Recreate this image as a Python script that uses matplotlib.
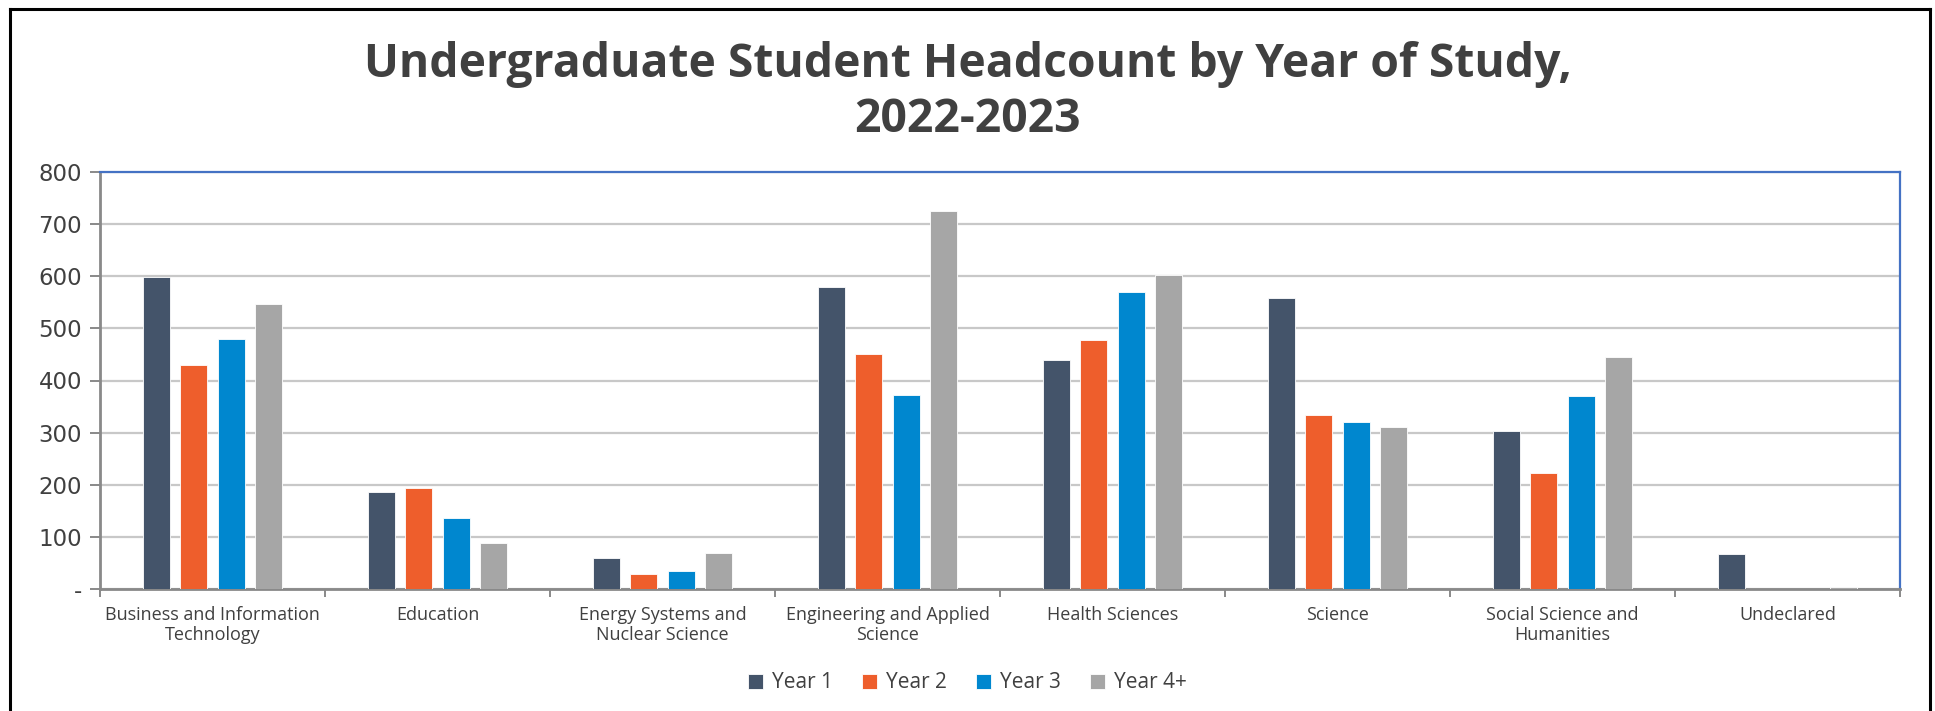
import numpy as np
import matplotlib
matplotlib.use("Agg")
import matplotlib.pyplot as plt
from matplotlib.lines import Line2D

categories = ["Business and Information\nTechnology", "Education",
              "Energy Systems and\nNuclear Science",
              "Engineering and Applied\nScience", "Health Sciences",
              "Science", "Social Science and\nHumanities", "Undeclared"]
series = ["Year 1", "Year 2", "Year 3", "Year 4+"]
year1 = [599, 187, 59, 580, 440, 559, 304, 67]
year2 = [430, 194, 29, 451, 478, 333, 223, 0]
year3 = [479, 137, 35, 373, 569, 320, 370, 0]
year4 = [547, 88, 70, 725, 602, 311, 445, 4]
yticks = [0, 100, 200, 300, 400, 500, 600, 700, 800]
ytick_labels = ["-", "100", "200", "300", "400", "500", "600", "700", "800"]

colors = ["#44546A", "#EE5E2C", "#0087CF", "#A6A6A6"]
text_col = "#404040"

W, H = 1935, 711
fig = plt.figure(figsize=(W / 100, H / 100), dpi=100)
ax = fig.add_axes([100 / W, 1 - 589 / H, 1800 / W, 417 / H])

x = np.arange(len(categories))
step = 0.167
width = 0.119
for i, (vals, name) in enumerate(zip([year1, year2, year3, year4], series)):
    ax.bar(x + (i - 1.5) * step, vals, width, color=colors[i], label=name,
           edgecolor="white", linewidth=0.6, zorder=3)

ax.set_xlim(-0.5, len(categories) - 0.5)
ax.set_ylim(0, 800)
ax.set_yticks(yticks)
ax.set_yticklabels(ytick_labels, fontsize=16.5, color=text_col,
                   family="DejaVu Sans")
ax.yaxis.grid(True, color="#C8C8C8", lw=1.6, zorder=0)
ax.set_axisbelow(True)

ax.set_xticks(x)
ax.set_xticklabels(categories, fontsize=13, color=text_col,
                   family="Open Sans", linespacing=1.2)
ax.set_xticks(np.arange(len(categories) + 1) - 0.5, minor=True)
ax.tick_params(axis="x", which="major", length=0, pad=12)
ax.tick_params(axis="x", which="minor", length=6, width=1.4,
               color="#898989")
ax.tick_params(axis="y", length=7, width=1.4, color="#898989", pad=6)

for s in ("top", "right"):
    ax.spines[s].set_color("#4472C4")
    ax.spines[s].set_linewidth(1.6)
for s in ("left", "bottom"):
    ax.spines[s].set_color("#898989")
    ax.spines[s].set_linewidth(2.0)

fig.text(0.5, 1 - 64 / H, "Undergraduate Student Headcount by Year of Study,",
         ha="center", va="center", fontsize=33.3, fontweight="bold",
         color=text_col, family="Open Sans")
fig.text(0.5, 1 - 119 / H, "2022-2023", ha="center", va="center",
         fontsize=33.3, fontweight="bold", color=text_col, family="Open Sans")

leg = fig.legend(loc="center", bbox_to_anchor=(0.5, 1 - 683 / H), ncol=4,
                 frameon=False, handlelength=0.7,
                 handleheight=0.7, handletextpad=0.45, columnspacing=1.4,
                 prop={"family": "Open Sans", "size": 15})
for t in leg.get_texts():
    t.set_color(text_col)

# outer frame (left, top, right; bottom runs off the image)
for xs, ys in (([10 / W, 10 / W], [0, 1 - 9 / H]),
               ([10 / W, 1930 / W], [1 - 9 / H, 1 - 9 / H]),
               ([1930 / W, 1930 / W], [1 - 9 / H, 0])):
    fig.add_artist(Line2D(xs, ys, color="black", lw=2.2,
                          transform=fig.transFigure))

fig.savefig("out.png", dpi=100, facecolor="white")
